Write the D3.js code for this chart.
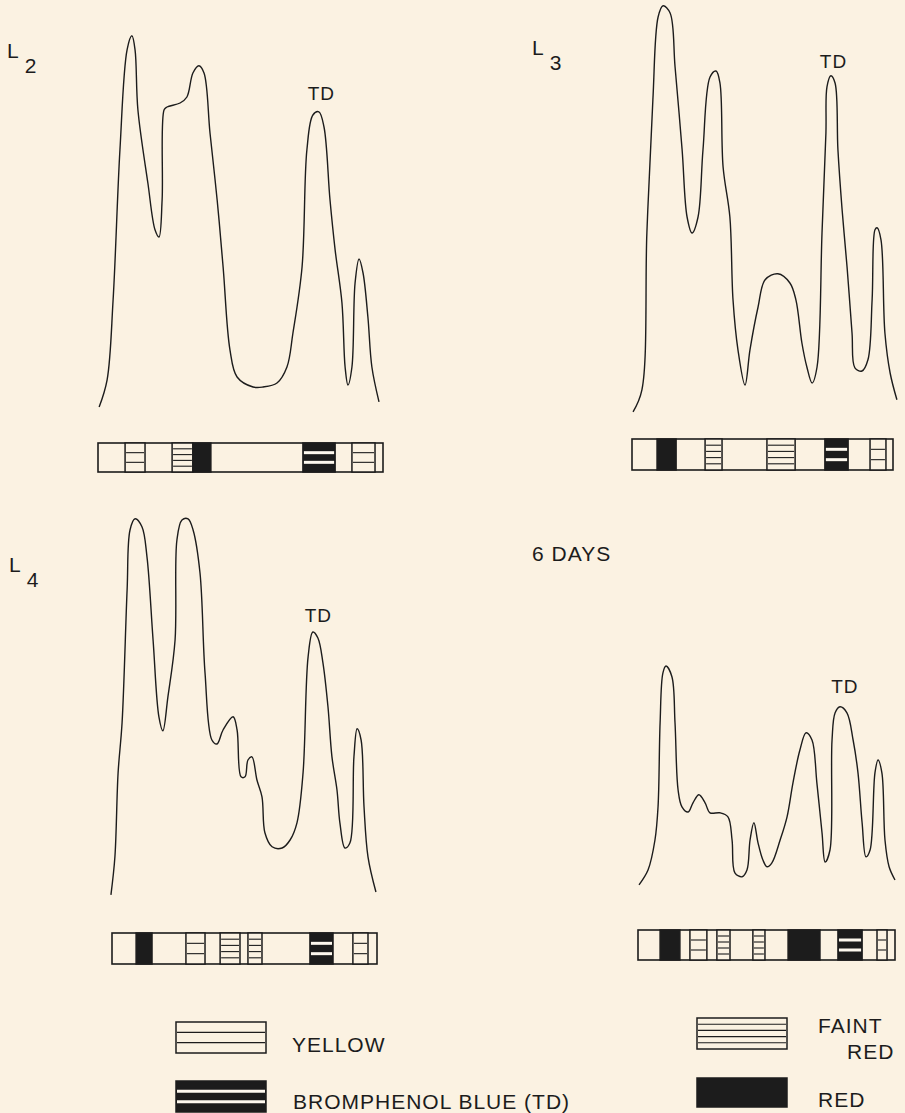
<!DOCTYPE html>
<html lang="en">
	<head>
		<meta charset="utf-8">
		<title>Densitometer scans</title>
		<script src="https://d3js.org/d3.v7.min.js"></script>
		<style type="text/css">
			body, html {
				margin: 0;
				padding: 0;
				background: #fbf2e2;
			}
			svg text {
				font-family: "Liberation Sans", Arial, sans-serif;
				fill: #1c1c1c;
				letter-spacing: 1px;
			}
		</style>
	</head>
	<body>
		<div id="chart"></div>
		<script type="text/javascript">

		// stage names
		var stages = ["L2", "L3", "L4", "6 DAYS"]

		// scan curves: [distance along strip (0-100), absorbance (arbitrary units)]
		var curveL2 = [[0.4,2],[3.2,8.8],[5.3,28.8],[7.7,66.3],[10.2,91.3],[11.9,94.8],[13.0,91.3],[14.0,76.3],[17.5,58],[20.0,46.3],[21.4,44.5],[22.5,53.8],[23.2,76.3],[24.2,77],[28.8,78],[31.2,79.5],[33.3,85.5],[35.4,87.3],[37.2,85.5],[39.3,70.5],[41.8,53.8],[43.9,37],[46.3,16.3],[48.8,9.5],[54.4,7],[57.9,7],[62.8,8],[66.3,12],[68.4,20.5],[71.6,37],[73.3,66.3],[75.4,75],[77.5,75.8],[79.3,72],[81.4,53.8],[83.2,41.3],[85.6,28],[86.7,12],[87.7,7.5],[89.1,12],[90.2,33],[91.6,39],[93.0,35.5],[94.7,24.5],[96.1,12],[98.6,3.3]]

		var curveL3 = [[0.4,0.8],[3.8,6.3],[5.7,45.5],[8.0,78.8],[10.0,99.5],[11.9,102.3],[14.6,100.5],[16.5,87],[19.2,66.3],[21.1,49.5],[23.0,45.5],[25.3,49.5],[27.2,66.3],[29.9,84.5],[32.2,86],[33.7,83],[34.9,62],[37.5,49.5],[38.7,28.8],[40.6,16.3],[43.3,7.5],[45.2,16.3],[48.3,27],[51.0,33.8],[55.9,35.3],[60.5,33],[62.8,28.8],[65.1,18],[67.0,12],[69.0,8],[70.9,12],[72.8,45.5],[74.3,70.5],[74.7,82],[76.2,84.8],[77.8,83],[78.9,66.3],[80.5,51.3],[82.4,37],[84.3,20.5],[85.4,11.8],[88.1,11],[90.4,13.8],[92.0,28.8],[93.1,46.3],[93.9,46.8],[95.4,43.8],[96.9,20.5],[98.9,10.5],[101.5,3.8]]

		var curveL4 = [[-0.4,1.3],[1.1,10.8],[2.3,31.8],[3.8,44.3],[5.7,77.5],[6.8,92.5],[8.7,95.3],[11.3,93.3],[13.2,85.8],[15.5,65],[17.7,45.8],[19.2,42.3],[21.1,50.8],[23.8,65],[24.5,90],[26.4,95],[28.7,95.3],[30.6,92.5],[33.2,81.8],[35.1,56.8],[37.7,40],[39.6,39],[41.9,42.5],[45.7,45.8],[47.2,42.5],[48.7,30.8],[50.2,30.8],[51.3,35],[52.8,35.8],[54.7,30],[56.6,25.8],[57.7,16.8],[60.4,13.3],[64.2,13],[67.2,15],[69.8,19.3],[72.1,31.8],[74.0,60.8],[75.8,67],[77.7,65.5],[79.6,59.3],[81.5,48.3],[83.0,35.8],[84.9,27.5],[86.0,19.3],[87.9,13],[89.8,14.3],[91.3,35.8],[92.5,42.8],[94.0,40],[95.1,23.3],[96.6,10.8],[99.6,2]]

		var curve6Days = [[0.4,3.8],[3.9,7.5],[6.6,15],[7.8,23.3],[8.6,44.3],[9.7,56.8],[10.9,58.5],[13.2,55.8],[14.4,44.3],[15.6,27.5],[17.1,23.3],[19.5,22],[21.4,24.3],[23.7,26.3],[26.1,24.3],[28.0,21.8],[31.9,21.8],[35.0,20.8],[36.6,15],[37.7,6.8],[40.5,5.8],[42.4,7.5],[43.6,15],[45.1,19.3],[46.7,14.3],[48.6,10],[50.2,8.3],[52.1,9.3],[55.3,15],[58.0,20.8],[60.3,29.3],[63.0,37.5],[65.4,41.8],[67.7,40],[69.6,29.3],[71.6,16.8],[72.8,9.5],[74.7,12.5],[75.5,40],[76.7,46.8],[78.6,48.3],[81.3,46.8],[83.7,40],[85.6,31.8],[87.2,19.3],[88.7,10.8],[90.3,12.5],[92.2,31.8],[93.4,35],[94.9,31.8],[96.1,15],[97.7,8.3],[100,5]]

		// coloured zones on each strip: [kind, from, to]
		var bandsL2 = [["yellow",9.5,16.5],["faint",26,33.3],["red",33.3,39.6],["blue",71.9,83.2],["yellow",89.1,97.2]]
		var bandsL3 = [["red",9.6,16.9],["faint",28,34.5],["faint",51.7,62.5],["blue",73.9,82.8],["yellow",91.2,97.3]]
		var bandsL4 = [["red",9.1,15.1],["yellow",27.9,35.1],["faint",40.8,48.3],["faint",51.3,56.6],["blue",74.7,83.4],["yellow",90.9,96.6]]
		var bands6Days = [["red",8.6,16.3],["yellow",20.2,26.8],["faint",30.7,35.8],["faint",44.7,49.4],["red",58.4,70.8],["blue",77.8,87.2],["yellow",93,96.9]]

		// "TD" label anchor, in curve units
		var tdLabels = [[78.4,78.8],[77.2,86.8],[77.9,69.5],[80.5,51.8]]

		// legend
		var legendKinds = ["yellow", "blue", "faint", "red"]
		var legendTexts = [["YELLOW"], ["BROMPHENOL BLUE (TD)"], ["FAINT", "RED"], ["RED"]]

		var curves = [curveL2, curveL3, curveL4, curve6Days]
		var bands = [bandsL2, bandsL3, bandsL4, bands6Days]

		var W = 905, H = 1113
		var ink = "#1c1c1c", paper = "#fbf2e2"

		var svg = d3.select("#chart").append("svg")
			.attr("width", W)
			.attr("height", H)

		// panel placement
		var layout = [
			{x0: 98, x1: 383, base: 415, stripY: 443, stripH: 29, lx: 7, ly: 58},
			{x0: 632, x1: 893, base: 415, stripY: 439, stripH: 31, lx: 532, ly: 55},
			{x0: 112, x1: 377, base: 900, stripY: 933, stripH: 31, lx: 9, ly: 572},
			{x0: 638, x1: 895, base: 900, stripY: 930, stripH: 30, lx: 532, ly: 561}
		]

		// draws one band pattern in a box
		var drawPattern = function (g, kind, x, y, w, h) {
			g.append("rect")
				.attr("x", x).attr("y", y)
				.attr("width", w).attr("height", h)
				.attr("stroke", ink)
				.attr("stroke-width", 1.5)
				.attr("fill", (kind === "red" || kind === "blue") ? ink : paper)
			var rows = {yellow: 3, faint: 5, blue: 3, red: 0}[kind]
			for (var i = 1; i < rows; i++) {
				var ly = y + h * i / rows
				g.append("line")
					.attr("x1", x + 1).attr("x2", x + w - 1)
					.attr("y1", ly).attr("y2", ly)
					.attr("stroke", kind === "blue" ? "#fdf8ee" : ink)
					.attr("stroke-width", kind === "blue" ? 3 : 1.1)
			}
		}

		stages.forEach(function (name, p) {
			var L = layout[p]
			var xScale = d3.scaleLinear().domain([0, 100]).range([L.x0, L.x1])
			var yScale = d3.scaleLinear().domain([0, 100]).range([L.base, L.base - 400])
			var g = svg.append("g")

			var line = d3.line()
				.x(d => xScale(d[0]))
				.y(d => yScale(d[1]))
				.curve(d3.curveCatmullRom.alpha(0.5))

			g.append("path")
				.attr("d", line(curves[p]))
				.attr("fill", "none")
				.attr("stroke", ink)
				.attr("stroke-width", 1.4)
				.attr("stroke-linejoin", "round")

			// strip outline then the zones
			g.append("rect")
				.attr("x", L.x0).attr("y", L.stripY)
				.attr("width", L.x1 - L.x0).attr("height", L.stripH)
				.attr("fill", paper)
				.attr("stroke", ink)
				.attr("stroke-width", 1.6)

			bands[p].forEach(function (b) {
				drawPattern(g, b[0], xScale(b[1]), L.stripY, xScale(b[2]) - xScale(b[1]), L.stripH)
			})

			g.append("text")
				.attr("x", xScale(tdLabels[p][0]))
				.attr("y", yScale(tdLabels[p][1]))
				.attr("text-anchor", "middle")
				.attr("font-size", 19)
				.text("TD")

			// stage label, subscript for larval stages
			var label = g.append("text")
				.attr("x", L.lx)
				.attr("y", L.ly)
				.attr("font-size", 21)
			if (name[0] === "L") {
				label.append("tspan").text("L")
				label.append("tspan").attr("dx", 5).attr("dy", 15).text(name.slice(1))
			} else {
				label.text(name)
			}
		})

		// legend
		var legendPos = [
			{x: 176, y: 1022, w: 90, h: 31, tx: 292, ty: 1052},
			{x: 176, y: 1081, w: 90, h: 31, tx: 293, ty: 1109},
			{x: 697, y: 1018, w: 90, h: 31, tx: 818, ty: 1033},
			{x: 697, y: 1078, w: 90, h: 29, tx: 818, ty: 1107}
		]
		var lg = svg.append("g")
		legendKinds.forEach(function (kind, i) {
			var P = legendPos[i]
			drawPattern(lg, kind, P.x, P.y, P.w, P.h)
			legendTexts[i].forEach(function (t, j) {
				lg.append("text")
					.attr("x", P.tx + j * 29)
					.attr("y", P.ty + j * 26)
					.attr("font-size", 21)
					.text(t)
			})
		})

		</script>
	</body>
</html>
